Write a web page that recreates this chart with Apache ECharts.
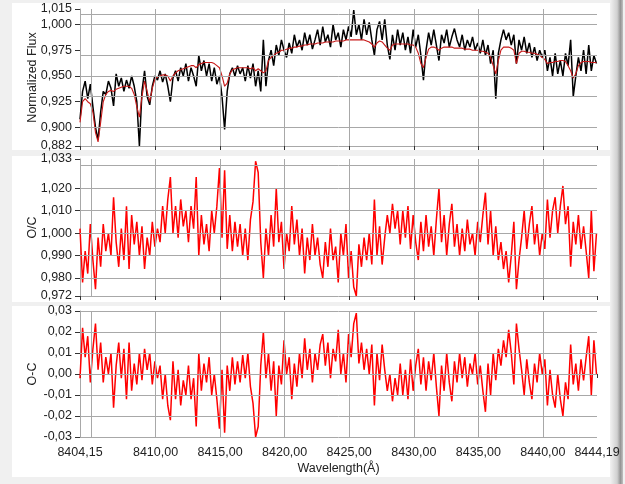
<!DOCTYPE html>
<html>
<head>
<meta charset="utf-8">
<script src="https://cdn.jsdelivr.net/npm/echarts@6/dist/echarts.min.js"></script>
<style>html,body{margin:0;padding:0;background:#f0f0f0;}#c{width:625px;height:484px;}</style>
</head>
<body>
<div id="c"></div>
<script>
// wavelength sampling grid (Å)
const wavelengthStart = 8404.15;
const wavelengthStep = 0.2;

// Observed normalized flux (black)
const fluxObserved = [
0.908,0.935,0.945,0.928,0.942,0.920,0.900,0.888,0.915,0.935,
0.932,0.945,0.938,0.921,0.952,0.940,0.948,0.935,0.946,0.938,
0.950,0.940,0.925,0.882,0.935,0.955,0.930,0.922,0.940,0.950,
0.946,0.955,0.944,0.952,0.940,0.925,0.948,0.955,0.945,0.958,
0.950,0.962,0.945,0.958,0.950,0.940,0.970,0.955,0.965,0.950,
0.962,0.945,0.958,0.942,0.950,0.930,0.898,0.935,0.952,0.958,
0.950,0.960,0.952,0.958,0.945,0.960,0.948,0.962,0.940,0.955,
0.935,0.985,0.940,0.965,0.975,0.960,0.980,0.970,0.985,0.975,
0.968,0.982,0.972,0.990,0.978,0.985,0.975,0.992,0.980,0.990,
0.976,0.985,0.995,0.980,0.998,0.983,0.990,0.978,1.000,0.985,
0.992,0.978,0.995,0.985,0.998,0.988,1.014,0.990,1.000,0.985,
1.005,0.990,1.002,0.985,0.970,0.995,1.003,0.985,1.005,0.980,
0.966,0.990,0.975,0.995,0.980,0.992,0.975,0.988,0.972,0.995,
0.978,0.990,0.970,0.946,0.975,0.992,0.980,0.995,0.980,0.965,
0.990,0.982,0.995,0.978,0.988,0.996,0.985,0.978,0.990,0.975,
0.985,0.978,0.988,0.975,0.982,0.972,0.985,0.970,0.980,0.962,
0.975,0.928,0.972,0.985,0.995,0.985,0.992,0.980,0.990,0.962,
0.985,0.975,0.988,0.972,0.982,0.968,0.978,0.965,0.975,0.968,
0.975,0.955,0.968,0.950,0.972,0.952,0.965,0.950,0.972,0.960,
0.985,0.930,0.950,0.968,0.955,0.975,0.952,0.980,0.955,0.970,
0.962];

// Model flux (red)
const fluxModel = [
0.905,0.925,0.928,0.925,0.923,0.915,0.895,0.886,0.905,0.925,
0.932,0.935,0.936,0.935,0.937,0.938,0.939,0.940,0.940,0.940,
0.938,0.932,0.920,0.910,0.930,0.945,0.935,0.925,0.938,0.947,
0.949,0.950,0.951,0.951,0.950,0.945,0.950,0.953,0.955,0.956,
0.957,0.958,0.959,0.960,0.960,0.958,0.961,0.962,0.963,0.963,
0.963,0.963,0.962,0.960,0.958,0.950,0.940,0.943,0.952,0.956,
0.957,0.958,0.958,0.958,0.958,0.958,0.957,0.958,0.955,0.957,
0.955,0.953,0.955,0.965,0.968,0.970,0.972,0.973,0.975,0.975,
0.976,0.977,0.977,0.978,0.978,0.979,0.979,0.980,0.980,0.981,
0.981,0.981,0.982,0.982,0.982,0.983,0.983,0.983,0.983,0.984,
0.984,0.984,0.984,0.985,0.985,0.985,0.985,0.985,0.985,0.985,
0.985,0.984,0.983,0.981,0.978,0.982,0.984,0.983,0.980,0.977,
0.975,0.980,0.981,0.981,0.981,0.981,0.981,0.981,0.980,0.980,
0.978,0.972,0.962,0.958,0.968,0.976,0.978,0.978,0.977,0.975,
0.977,0.978,0.978,0.978,0.978,0.977,0.977,0.977,0.977,0.976,
0.976,0.976,0.975,0.975,0.975,0.974,0.974,0.973,0.972,0.968,
0.960,0.952,0.965,0.975,0.978,0.978,0.978,0.977,0.975,0.962,
0.972,0.974,0.974,0.973,0.973,0.972,0.972,0.971,0.970,0.968,
0.966,0.962,0.963,0.963,0.964,0.964,0.965,0.965,0.964,0.960,
0.955,0.948,0.952,0.960,0.963,0.964,0.964,0.964,0.963,0.963,
0.963];

// O/C ratio
const ratioOC = [
1.002,0.978,0.992,0.982,1.004,0.988,0.975,0.998,0.985,1.004,
0.992,1.000,0.990,1.016,0.996,0.985,1.002,0.988,1.012,0.984,
1.008,0.995,1.005,0.990,1.003,0.984,0.998,0.990,1.005,0.994,
1.002,0.996,1.012,1.000,1.015,1.025,1.000,1.012,0.998,1.015,
1.003,1.010,0.996,1.012,1.002,1.025,0.990,1.008,0.995,1.004,
0.992,1.010,1.000,1.012,1.029,0.998,1.028,0.993,1.008,0.992,
1.005,0.994,1.004,0.990,1.002,0.988,1.006,1.014,1.032,1.027,
0.996,0.980,1.002,0.990,1.008,0.994,1.020,0.996,1.005,0.984,
1.000,0.992,1.012,0.995,1.006,0.990,1.002,0.982,0.998,0.988,
1.004,0.990,0.998,0.986,0.980,0.996,0.985,1.002,0.988,0.994,
0.978,1.000,0.990,1.004,0.980,0.992,0.976,0.972,0.995,0.985,
0.998,0.988,1.000,0.986,1.015,0.990,1.003,0.986,0.998,1.008,
1.000,1.013,1.002,1.010,0.995,1.010,0.998,1.012,0.993,1.008,
0.996,0.988,1.005,0.992,1.008,0.994,1.003,0.990,1.006,1.020,
0.996,1.008,0.990,1.004,1.013,0.994,1.004,0.990,1.002,0.992,
1.006,0.995,1.000,0.990,1.005,0.996,1.008,1.018,0.995,1.010,
0.990,1.003,0.988,0.996,0.984,0.992,0.978,0.990,1.005,0.975,
0.988,0.998,1.010,0.993,1.004,1.012,0.995,1.004,0.990,1.000,
0.993,1.015,0.998,1.010,1.016,1.000,1.012,1.021,1.004,1.012,
0.985,1.005,0.995,1.008,0.993,1.003,0.992,0.980,1.010,0.983,
1.000];

// O-C difference
const diffOC = [
-0.002,0.022,0.008,0.018,-0.004,0.012,0.024,0.002,0.015,-0.004,
0.008,0.000,0.010,-0.016,0.004,0.015,-0.002,0.012,-0.012,0.015,
-0.008,0.005,-0.005,0.010,-0.003,0.012,0.002,0.010,-0.005,0.006,
-0.002,0.004,-0.012,0.000,-0.015,-0.022,0.006,-0.012,0.002,-0.015,
-0.003,-0.010,0.004,-0.012,-0.002,-0.025,0.010,-0.008,0.005,-0.004,
0.008,-0.010,0.000,-0.012,-0.026,0.002,-0.028,0.004,-0.008,0.008,
-0.005,0.006,-0.004,0.009,-0.002,0.010,-0.006,-0.014,-0.030,-0.025,
0.004,0.020,-0.002,0.010,-0.008,0.006,-0.020,0.004,-0.005,0.016,
0.000,0.008,-0.012,0.005,-0.006,0.010,-0.002,0.017,0.002,0.012,
-0.004,0.010,0.002,0.014,0.019,0.004,0.015,-0.002,0.012,0.006,
0.021,0.000,0.010,-0.004,0.019,0.008,0.024,0.029,0.005,0.015,
0.002,0.012,0.000,0.014,-0.015,0.010,-0.003,0.014,0.002,-0.008,
0.000,-0.013,-0.002,-0.010,0.005,-0.010,0.002,-0.012,0.007,-0.008,
0.004,0.012,-0.005,0.008,-0.008,0.006,-0.003,0.010,-0.006,-0.020,
0.004,-0.008,0.010,-0.004,-0.013,0.006,-0.004,0.010,-0.002,0.008,
-0.006,0.005,0.000,0.010,-0.005,0.004,-0.008,-0.018,0.005,-0.010,
0.010,-0.003,0.012,0.004,0.016,0.008,0.021,0.010,-0.005,0.024,
0.012,0.002,-0.010,0.007,-0.004,-0.012,0.005,-0.004,0.010,0.000,
0.007,-0.015,0.002,-0.010,-0.016,0.000,-0.012,-0.020,-0.004,-0.012,
0.014,-0.005,0.005,-0.008,0.007,-0.003,0.008,0.018,-0.010,0.016,
0.000];

// axis ticks / labels
const xMin = 8404.15, xMax = 8444.19;
const xTickValues = [8404.15, 8410, 8415, 8420, 8425, 8430, 8435, 8440, 8444.19];
const xGridValues = [8405, 8410, 8415, 8420, 8425, 8430, 8435, 8440];
const fluxTicks = [0.882, 0.900, 0.925, 0.950, 0.975, 1.000, 1.015];
const ocTicks = [0.972, 0.980, 0.990, 1.000, 1.010, 1.020, 1.033];
const omcTicks = [-0.03, -0.02, -0.01, 0.00, 0.01, 0.02, 0.03];
const panelNames = ['Normalized Flux', 'O/C', 'O-C'];
const xAxisTitle = 'Wavelength(Å)';

const wavelengths = fluxObserved.map((_, i) => +(wavelengthStart + i * wavelengthStep).toFixed(2));
const pairs = arr => arr.map((v, i) => [wavelengths[i], v]);

const FONT = "'Liberation Sans Narrow', 'Liberation Sans', Arial, sans-serif";
const NAMEFONT = "'Liberation Sans', Arial, sans-serif";
const comma = d => v => v.toFixed(d).replace('.', ',');
const GRIDC = '#a8a8a8';

const grids = [
  {left: 80, top: 9, width: 517, height: 137},
  {left: 80, top: 159, width: 517, height: 137},
  {left: 80, top: 311, width: 517, height: 126}
];
const yTicksAll = [fluxTicks, ocTicks, omcTicks];
const yDec = [3, 3, 2];

const xAxes = grids.map((g, k) => ({
  type: 'value', gridIndex: k, min: xMin, max: xMax,
  axisLine: {show: true, lineStyle: {color: GRIDC, width: 1}},
  axisTick: {show: true, customValues: xTickValues, length: 4, lineStyle: {color: '#333'}},
  axisLabel: {show: k === 2, customValues: xTickValues, formatter: comma(2), margin: 9,
    fontSize: 12.5, color: '#222', fontFamily: FONT},
  splitLine: {show: false},
  name: k === 2 ? xAxisTitle : '', nameLocation: 'middle', nameGap: 25, nameMoveOverlap: false,
  nameTextStyle: {fontSize: 12.5, color: '#222', fontFamily: NAMEFONT}
}));

const yAxes = grids.map((g, k) => ({
  type: 'value', gridIndex: k,
  min: yTicksAll[k][0], max: yTicksAll[k][yTicksAll[k].length - 1],
  axisLine: {show: true, lineStyle: {color: GRIDC, width: 1}},
  axisTick: {show: true, customValues: yTicksAll[k], length: 5, lineStyle: {color: '#333'}},
  axisLabel: {customValues: yTicksAll[k], formatter: comma(yDec[k]), margin: 8,
    fontSize: 12.5, color: '#222', fontFamily: FONT},
  splitLine: {show: false},
  name: panelNames[k], nameLocation: 'middle', nameGap: 41, nameMoveOverlap: false,
  nameTextStyle: {fontSize: 12.5, color: '#222', fontFamily: NAMEFONT}
}));

const gridSeries = grids.map((g, k) => ({
  type: 'line', xAxisIndex: k, yAxisIndex: k, data: [], z: 1, silent: true,
  markLine: {
    silent: true, symbol: ['none', 'none'], animation: false,
    label: {show: false},
    lineStyle: {type: 'solid', color: GRIDC, width: 1},
    emphasis: {disabled: true},
    data: xGridValues.map(v => ({xAxis: v})).concat(yTicksAll[k].map(v => ({yAxis: v})))
  }
}));

const lineSeries = (k, data, color, width, z) => ({
  type: 'line', xAxisIndex: k, yAxisIndex: k, data: pairs(data),
  showSymbol: false, symbol: 'none', z: z, silent: true,
  lineStyle: {color: color, width: width}, emphasis: {disabled: true}
});

const chart = echarts.init(document.getElementById('c'), null, {renderer: 'canvas'});
chart.setOption({
  animation: false,
  backgroundColor: '#f0f0f0',
  graphic: {elements: [
    {type: 'rect', z: -10, silent: true, shape: {x: 12, y: 3, width: 598, height: 147}, style: {fill: '#ffffff'}},
    {type: 'rect', z: -10, silent: true, shape: {x: 12, y: 156, width: 598, height: 146}, style: {fill: '#ffffff'}},
    {type: 'rect', z: -10, silent: true, shape: {x: 12, y: 306, width: 598, height: 171}, style: {fill: '#ffffff'}},
    {type: 'rect', z: -10, silent: true, shape: {x: 610, y: 0, width: 13, height: 484},
      style: {fill: new echarts.graphic.LinearGradient(0, 0, 1, 0, [
        {offset: 0, color: '#f2f2f2'}, {offset: 0.55, color: '#d0d0d0'},
        {offset: 0.8, color: '#959595'}, {offset: 1, color: '#c0c0c0'}])}}
  ]},
  grid: grids,
  xAxis: xAxes,
  yAxis: yAxes,
  series: gridSeries.concat([
    lineSeries(0, fluxObserved, '#000000', 1.5, 3),
    lineSeries(0, fluxModel, '#c81818', 1.1, 4),
    lineSeries(1, ratioOC, '#ff0000', 1.5, 3),
    lineSeries(2, diffOC, '#ff0000', 1.5, 3)
  ])
});
</script>
</body>
</html>
